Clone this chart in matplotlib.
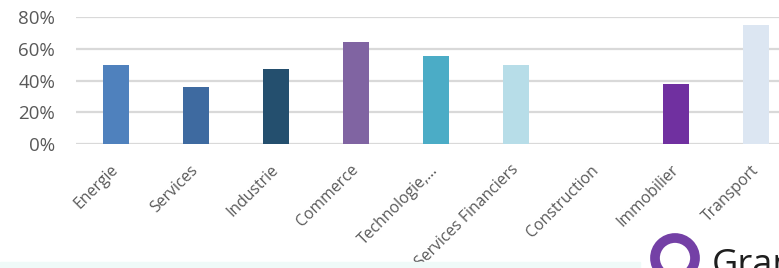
import matplotlib.pyplot as plt
from matplotlib.ticker import FuncFormatter
from matplotlib.patches import Circle

categories = ['Energie', 'Services', 'Industrie', 'Commerce', 'Technologie,…',
              'Services Financiers', 'Construction', 'Immobilier', 'Transport']
values = [0.50, 0.36, 0.47, 0.64, 0.555, 0.50, 0.0, 0.38, 0.75]
colors = ['#4F81BD', '#3E6AA0', '#244F6E', '#8064A2', '#4BACC6',
          '#B7DDE8', '#C0C0C0', '#7030A0', '#DCE6F2']
yticks = [0, 0.2, 0.4, 0.6, 0.8]

fig = plt.figure(figsize=(7.79, 2.68), dpi=100)
W, H = 779, 268
# axes runs a bit past the right edge, like the cropped screenshot
ax = fig.add_axes([76 / W, 124 / H, 720 / W, 127 / H])

x = range(len(categories))
ax.bar(x, values, width=0.325, color=colors, zorder=3)

ax.set_xlim(-0.5, len(categories) - 0.5)
ax.set_ylim(0, 0.8)
ax.set_yticks(yticks)
ax.yaxis.set_major_formatter(FuncFormatter(lambda v, p: '{:.0f}%'.format(v * 100)))
ax.grid(axis='y', color='#D9D9D9', linewidth=1.6, zorder=0)
ax.set_axisbelow(True)
for s in ax.spines.values():
    s.set_visible(False)
ax.tick_params(length=0)
ax.tick_params(axis='y', labelsize=13.5, labelcolor='#595959', pad=15)
for t in ax.get_yticklabels():
    t.set_fontfamily(['Open Sans', 'DejaVu Sans'])

ax.set_xticks(list(x))
ax.set_xticklabels(categories, rotation=45, ha='right', va='center',
                   rotation_mode='anchor', fontsize=11.3, color='#595959',
                   family=['Open Sans', 'DejaVu Sans'])
ax.tick_params(axis='x', pad=17)

# bottom strip and cut-off logo from the screenshot
fig.patches.append(plt.Rectangle((0, 0), 640 / W, 6 / H, transform=fig.transFigure,
                                 color='#EFFAF8', zorder=0))
fig.patches.append(Circle((6.75, 0.10), 0.20, transform=fig.dpi_scale_trans,
                          facecolor='none', edgecolor='#7440A6', linewidth=7))
fig.text(712 / W, -16 / H, 'Gran', fontsize=26, color='#1E1E1E',
         family=['Open Sans', 'DejaVu Sans'], va='bottom')

fig.savefig('out.png', dpi=100)
